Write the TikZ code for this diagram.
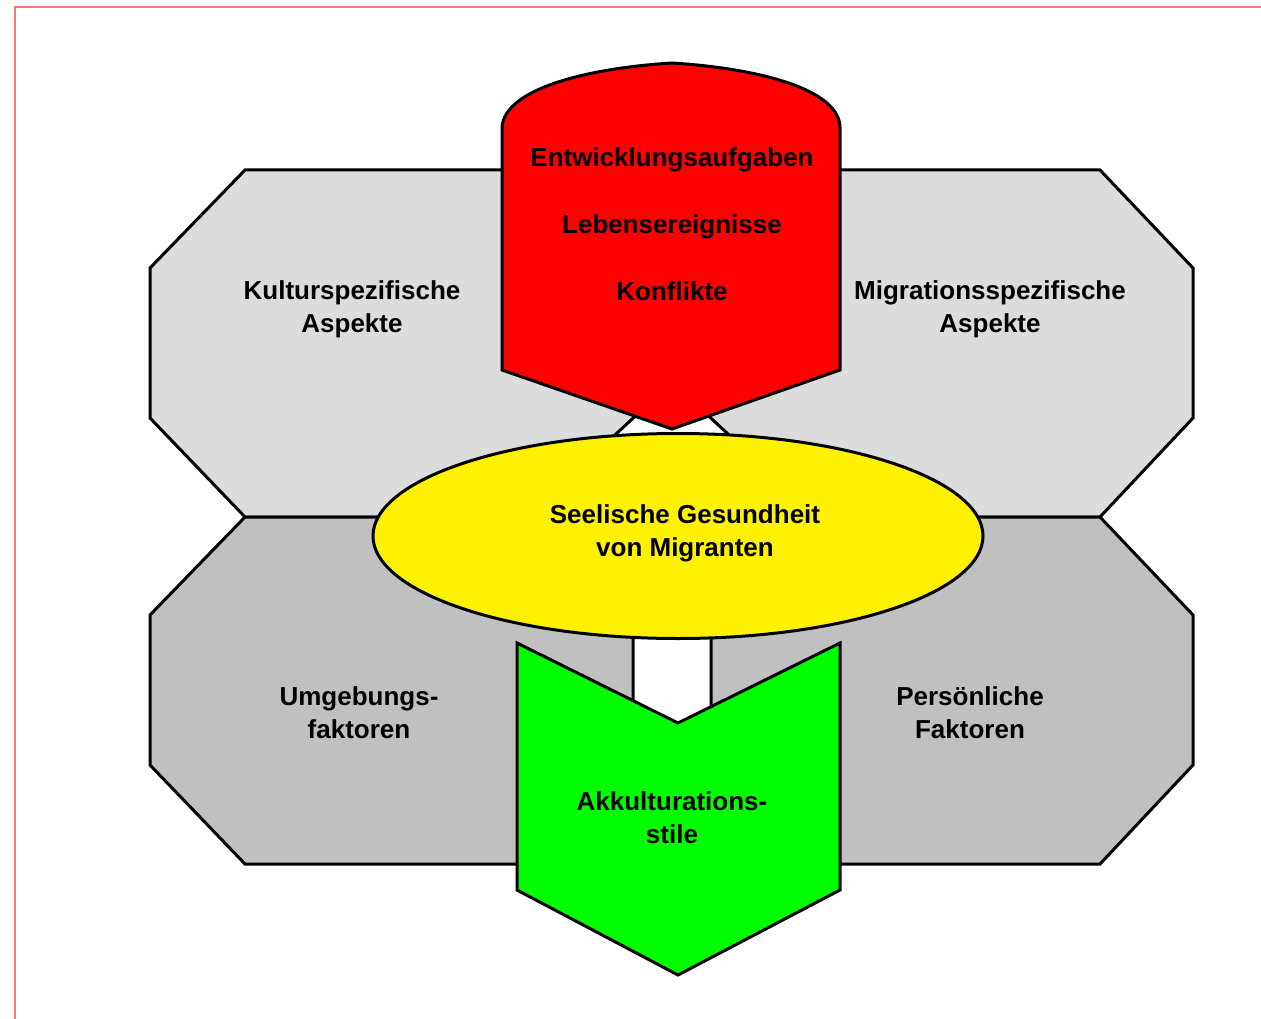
\documentclass[tikz,border=0pt]{standalone}
\usepackage{fontspec}
\setmainfont{Liberation Sans}
\usepackage{tikz}
\usetikzlibrary{shapes.geometric}
\definecolor{upgrey}{RGB}{220,220,220}
\definecolor{lowgrey}{RGB}{192,192,192}
\definecolor{framered}{RGB}{250,120,125}
\tikzstyle{outline} = [draw=black, line width=3pt, line join=miter]
\tikzstyle{txt} = [font={\bfseries\fontsize{26}{33}\selectfont}, align=center, inner sep=0pt]
\tikzstyle{spread} = [font={\bfseries\fontsize{26}{67}\selectfont}, align=center, inner sep=0pt]
\begin{document}
\begin{tikzpicture}[x=1pt,y=-1pt]
    \useasboundingbox (0,0) rectangle (1261,1019);
    \clip (0,0) rectangle (1261,1019);
    \draw[framered, line width=2pt] (15,7) rectangle (1280,1040);
    % the two octagons
    \draw[outline, fill=upgrey] (245,170) -- (1100,170) -- (1193,268) -- (1193,418) -- (1100,517) -- (245,517) -- (150,418) -- (150,268) -- cycle;
    \draw[outline, fill=lowgrey] (245,517) -- (1100,517) -- (1193,615) -- (1193,765) -- (1100,864) -- (245,864) -- (150,765) -- (150,615) -- cycle;
    % white arrow behind
    \draw[outline, fill=white] (672,382) -- (742,447) -- (711,447) -- (711,740) -- (633,740) -- (633,447) -- (602,447) -- cycle;
    % red and green shapes
    \draw[outline, fill=red] (502,127) .. controls (505,88) and (590,68) .. (672,63) .. controls (754,68) and (839,88) .. (840,127) -- (840,370) -- (672,429) -- (502,370) -- cycle;
    \node[outline, ellipse, fill=yellow, minimum width=610pt, minimum height=205pt](gesundheit) at (678,536){};
    \draw[outline, fill=green] (517,643) -- (678,723) -- (840,643) -- (840,890) -- (678,975) -- (517,890) -- cycle;
    % texts
    \node[spread](anlass) at (672,224){Entwicklungsaufgaben\\Lebensereignisse\\Konflikte};
    \node[txt](kultur) at (352,309){Kulturspezifische\\Aspekte};
    \node[txt](migration) at (990,309){Migrationsspezifische\\Aspekte};
    \node[txt](seele) at (685,533){Seelische Gesundheit\\von Migranten};
    \node[txt](umgebung) at (359,713){Umgebungs-\\faktoren};
    \node[txt](person) at (970,713){Persönliche\\Faktoren};
    \node[txt](akkult) at (672,818){Akkulturations-\\stile};
  \end{tikzpicture}
\end{document}
